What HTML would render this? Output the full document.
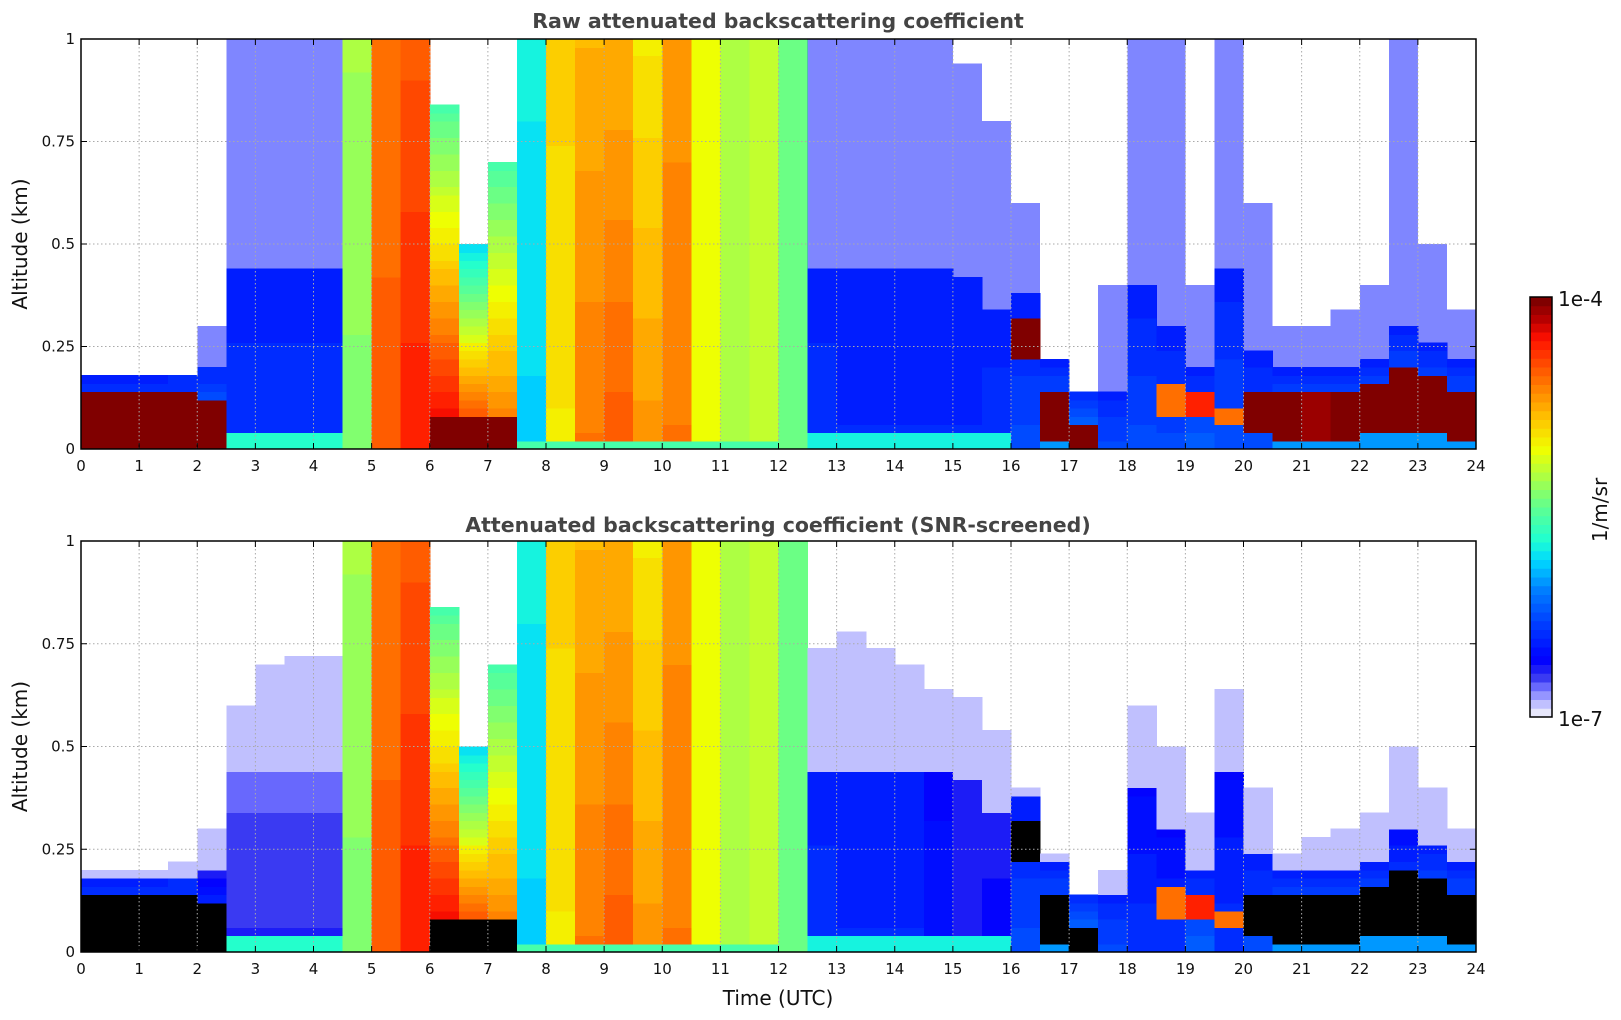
<!DOCTYPE html>
<html><head><meta charset="utf-8"><style>
html,body{margin:0;padding:0;background:#fff;}
svg{display:block;font-family:"DejaVu Sans","Liberation Sans",sans-serif;}
</style></head><body>
<svg id="fig" width="1621" height="1020" viewBox="0 0 1621 1020" xmlns="http://www.w3.org/2000/svg">
<text x="778" y="28" text-anchor="middle" font-size="20.5" font-weight="bold" fill="#444">Raw attenuated backscattering coefficient</text>
<text x="778" y="532" text-anchor="middle" font-size="20.5" font-weight="bold" fill="#444">Attenuated backscattering coefficient (SNR-screened)</text>
<g id="top"></g>
<g id="bot"></g>
<text x="778" y="1005" text-anchor="middle" font-size="20" fill="#111">Time (UTC)</text>
<g id="cbar"></g>
</svg>
<script>
// ---- data: one entry per half-hour column (0..23.5 h) ----
const times = [];for(let i=0;i<48;i++)times.push(i*0.5);
const yTicks=[0,0.25,0.5,0.75,1];
const yTickLabels=["0","0.25","0.5","0.75","1"];
const xTicks=[0,1,2,3,4,5,6,7,8,9,10,11,12,13,14,15,16,17,18,19,20,21,22,23,24];
const layerBot=[0,0,0,0,0, 0,0,0,0, 0,0,0, 0,0,0, 0,0,0,0,0, 0,0,0,0,0, 0,0,0,0,0,0,0, 0.22,0.02,0,0, 0,0.09,0.08,0.07, 0.05,0.03,0.03,0.03,0.04,0.05,0.04,0.03];
const layerTop=[0.14,0.14,0.14,0.15,0.12, 0.04,0.04,0.04,0.04, 0,0,0, 0.08,0.08,0.08, 0.03,0.03,0.03,0.03,0.03, 0.03,0.03,0.03,0.02,0, 0.04,0.04,0.04,0.04,0.04,0.04,0.04, 0.32,0.15,0.06,0, 0,0.16,0.15,0.1, 0.15,0.15,0.14,0.15,0.16,0.2,0.18,0.15];
const layerVal=[-4,-4,-4,-4,-4, -5.7,-5.7,-5.7,-5.7, -5,-5,-5, -4,-4,-4, -5.6,-5.6,-5.6,-5.6,-5.6, -5.6,-5.6,-5.6,-5.6,-5.6, -5.8,-5.8,-5.8,-5.8,-5.8,-5.8,-5.8, -4,-4,-4,-6, -6,-4.6,-4.3,-4.6, -4,-4,-4.05,-4,-4,-4,-4,-4];
const lowVal=[-6.0,-6.0,-6.0,-6.0,-6.0, -6.4,-6.4,-6.4,-6.4, -5.4,-4.5,-4.3, -4.1,-4.2,-4.5, -5.9,-5.0,-4.6,-4.5,-4.7, -4.6,-5.1,-5.3,-5.2,-5.5, -6.4,-6.45,-6.45,-6.45,-6.45,-6.45,-6.4, -6.3,-6.0,-6.0,-6.3, -6.3,-6.3,-6.2,-6.3, -6.3,-6.0,-6.0,-6.0,-6.0,-6.0,-6.0,-6.0];
const highVal=[-6.5,-6.5,-6.5,-6.5,-6.5, -6.5,-6.5,-6.5,-6.5, -5.3,-4.6,-4.5, -5.6,-5.9,-5.6, -5.8,-4.9,-4.8,-4.8,-5.0, -4.7,-5.1,-5.3,-5.2,-5.5, -6.5,-6.5,-6.5,-6.5,-6.5,-6.5,-6.5, -6.5,-6.5,-6.5,-6.5, -6.5,-6.5,-6.5,-6.5, -6.5,-6.5,-6.5,-6.5,-6.5,-6.5,-6.5,-6.5];
const topAlt=[0.18,0.18,0.18,0.19,0.21, 0.45,0.45,0.45,0.45, 1,1,1, 0.85,0.5,0.7, 1,1,1,1,1, 1,1,1,1,1, 0.45,0.45,0.45,0.45,0.45,0.42,0.35, 0.38,0.22,0.15,0.15, 0.4,0.3,0.2,0.45, 0.25,0.2,0.2,0.2,0.22,0.3,0.26,0.22];
const noiseAlt=[0,0,0,0,0.3, 1,1,1,1, 0,0,0, 0,0,0, 0,0,0,0,0, 0,0,0,0,0, 1,1,1,1,1,0.95,0.8, 0.6,0,0,0.4, 1,1,0.4,1, 0.6,0.3,0.3,0.35,0.4,1,0.5,0.35];
const screenAlt=[0.2,0.2,0.2,0.22,0.3, 0.6,0.7,0.72,0.72, 0,0,0, 0,0,0, 0,0,0,0,0, 0,0,0,0,0, 0.75,0.78,0.75,0.7,0.65,0.62,0.55, 0.4,0.25,0.15,0.2, 0.6,0.5,0.35,0.65, 0.4,0.25,0.28,0.3,0.35,0.5,0.4,0.3];
const screenDim=[0,0,0,0,0.2, 0.3,0.3,0.3,0.3, 0,0,0, 0,0,0, 0,0,0,0,0, 0,0,0,0,0, 0,0,0,0,0.1,0.2,0.2, 0,0,0,0, 0.1,0.1,0,0.1, 0,0,0,0,0,0.1,0,0];

const NS="http://www.w3.org/2000/svg";
const X0=81,X1=1476;
const panels=[{g:'top',y0:39,y1:449,raw:true},{g:'bot',y0:541,y1:952,raw:false}];
const stops=[[0,'#e6e6fa'],[0.03,'#b0b0ff'],[0.06,'#7070ff'],[0.09,'#3030f0'],[0.13,'#0000ff'],[0.22,'#0040ff'],[0.3,'#0080ff'],[0.37,'#00d8ff'],[0.42,'#20ffd0'],[0.5,'#60ff90'],[0.57,'#a8ff48'],[0.64,'#f0ff00'],[0.72,'#ffc000'],[0.79,'#ff8000'],[0.86,'#ff4000'],[0.91,'#ff1000'],[0.95,'#c00000'],[1,'#800000']];
function hex(c){return [1,3,5].map(i=>parseInt(c.substr(i,2),16));}
function cmap(v){let f=(v+7)/3;f=Math.max(0,Math.min(1,f));f=Math.round(f*47)/47;
 for(let i=1;i<stops.length;i++){if(f<=stops[i][0]){const a=stops[i-1],b=stops[i];const t=(f-a[0])/(b[0]-a[0]);const ca=hex(a[1]),cb=hex(b[1]);return 'rgb('+ca.map((x,k)=>Math.round(x+(cb[k]-x)*t)).join(',')+')';}}return stops[stops.length-1][1];}
const xs=t=>X0+(t/24)*(X1-X0);
function mk(tag,attrs,parent){const e=document.createElementNS(NS,tag);for(const k in attrs)e.setAttribute(k,attrs[k]);parent.appendChild(e);return e;}
const NR=50;
function cellVal(i,z,raw){
 if(z>=layerBot[i]&&z<layerTop[i])return {v:layerVal[i],o:1};
 if(z<topAlt[i]){const f=z/topAlt[i];let v=lowVal[i]+(highVal[i]-lowVal[i])*f;if(!raw&&v<-6.2)v-=screenDim[i];return {v:v,o:1};}
 if(raw){if(z<noiseAlt[i])return {v:-6.55,o:0.5};return null;}
 if(z<screenAlt[i])return {v:-6.95,o:1};
 return null;
}
panels.forEach(p=>{
 const g=document.getElementById(p.g);
 const ys=z=>p.y1-z*(p.y1-p.y0);
 const cw=(X1-X0)/48, ch=(p.y1-p.y0)/NR;
 for(let i=0;i<times.length;i++){
  for(let r=0;r<NR;r++){
   const z=(r+0.5)/NR;const c=cellVal(i,z,p.raw);if(!c)continue;
   let fill=cmap(c.v);if(!p.raw&&c.v>=-4.05)fill='#000';
   const pad=c.o<1?0:0.6;
   const rc=mk('rect',{x:xs(times[i]).toFixed(2),y:(ys(z)-ch/2).toFixed(2),width:(cw+pad).toFixed(2),height:(ch+pad).toFixed(2),fill:fill,'fill-opacity':c.o,'shape-rendering':'crispEdges'},g);
   
   
  }
 }
 xTicks.forEach(t=>{if(t>0&&t<24){const l=mk('line',{x1:xs(t),x2:xs(t),y1:p.y0,y2:p.y1,stroke:'#aaa','stroke-width':1,'stroke-dasharray':'1.5,2.5'},g);}});
 yTicks.forEach(v=>{if(v>0&&v<1){const l=mk('line',{x1:X0,x2:X1,y1:ys(v),y2:ys(v),stroke:'#aaa','stroke-width':1,'stroke-dasharray':'1.5,2.5'},g);}});
 const fr=mk('rect',{x:X0,y:p.y0,width:X1-X0,height:p.y1-p.y0,fill:'none',stroke:'#000','stroke-width':1.5},g);
 
 xTicks.forEach(t=>{
  mk('line',{x1:xs(t),x2:xs(t),y1:p.y1,y2:p.y1-6,stroke:'#000','stroke-width':1},g);
  mk('line',{x1:xs(t),x2:xs(t),y1:p.y0,y2:p.y0+6,stroke:'#000','stroke-width':1},g);
  const tx=mk('text',{x:xs(t),y:p.y1+22,'text-anchor':'middle','font-size':15,fill:'#111'},g);tx.textContent=t;
  
 });
 yTicks.forEach((v,k)=>{
  mk('line',{x1:X0,x2:X0+6,y1:ys(v),y2:ys(v),stroke:'#000','stroke-width':1},g);
  mk('line',{x1:X1,x2:X1-6,y1:ys(v),y2:ys(v),stroke:'#000','stroke-width':1},g);
  const tx=mk('text',{x:X0-6,y:ys(v)+5,'text-anchor':'end','font-size':15,fill:'#111'},g);tx.textContent=yTickLabels[k];
  
 });
 const yl=mk('text',{x:0,y:0,'text-anchor':'middle','font-size':20,fill:'#111',transform:'translate(27,'+((p.y0+p.y1)/2)+') rotate(-90)'},g);
 yl.textContent='Altitude (km)';
 
});
(function(){const g=document.getElementById('cbar');const y0=297,y1=717,n=48,h=(y1-y0)/n;
 for(let k=0;k<n;k++){const v=-7+3*(k+0.5)/n;const r=mk('rect',{x:1530,y:(y1-(k+1)*h).toFixed(2),width:22,height:(h+0.5).toFixed(2),fill:cmap(v)},g);
  }
 mk('rect',{x:1530,y:y0,width:22,height:y1-y0,fill:'none',stroke:'#000','stroke-width':1.5},g);
 let t=mk('text',{x:1558,y:y0+9,'font-size':20,fill:'#111'},g);t.textContent='1e-4';
 t=mk('text',{x:1558,y:y1+9,'font-size':20,fill:'#111'},g);t.textContent='1e-7';
 t=mk('text',{x:0,y:0,'text-anchor':'middle','font-size':20,fill:'#111',transform:'translate(1607,510) rotate(-90)'},g);t.textContent='1/m/sr';
})();
</script>
</body></html>
